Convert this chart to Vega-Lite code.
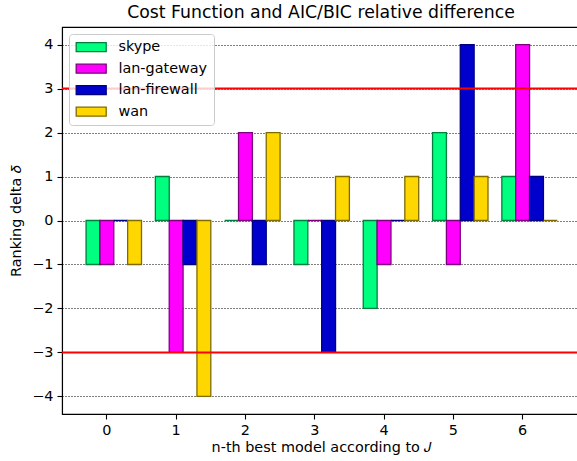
{
  "$schema": "https://vega.github.io/schema/vega-lite/v6.json",
  "width": 518,
  "height": 387,
  "autosize": {"type": "none"},
  "padding": {"left": 62, "top": 27, "right": -3, "bottom": 47},
  "background": "white",
  "title": {"text": "Cost Function and AIC/BIC relative difference", "font": "DejaVu Sans", "fontSize": 17.3, "fontWeight": "normal", "color": "black", "anchor": "middle", "offset": 6},
  "config": {
    "font": "DejaVu Sans",
    "view": {"stroke": "black", "strokeWidth": 1.1},
    "axis": {"domainColor": "black", "tickColor": "black", "labelColor": "black", "titleColor": "black", "labelFont": "DejaVu Sans", "titleFont": "DejaVu Sans", "labelFontSize": 14.4, "titleFontSize": 14.4, "titleFontWeight": "normal", "tickSize": 5, "tickWidth": 1.1, "domainWidth": 1.1, "labelPadding": 4}
  },
  "layer": [
    {
      "data": {"values": [
        {"n": 0, "series": "skype", "delta": -1},
        {"n": 0, "series": "lan-gateway", "delta": -1},
        {"n": 0, "series": "lan-firewall", "delta": 0},
        {"n": 0, "series": "wan", "delta": -1},
        {"n": 1, "series": "skype", "delta": 1},
        {"n": 1, "series": "lan-gateway", "delta": -3},
        {"n": 1, "series": "lan-firewall", "delta": -1},
        {"n": 1, "series": "wan", "delta": -4},
        {"n": 2, "series": "skype", "delta": 0},
        {"n": 2, "series": "lan-gateway", "delta": 2},
        {"n": 2, "series": "lan-firewall", "delta": -1},
        {"n": 2, "series": "wan", "delta": 2},
        {"n": 3, "series": "skype", "delta": -1},
        {"n": 3, "series": "lan-gateway", "delta": 0},
        {"n": 3, "series": "lan-firewall", "delta": -3},
        {"n": 3, "series": "wan", "delta": 1},
        {"n": 4, "series": "skype", "delta": -2},
        {"n": 4, "series": "lan-gateway", "delta": -1},
        {"n": 4, "series": "lan-firewall", "delta": 0},
        {"n": 4, "series": "wan", "delta": 1},
        {"n": 5, "series": "skype", "delta": 2},
        {"n": 5, "series": "lan-gateway", "delta": -1},
        {"n": 5, "series": "lan-firewall", "delta": 4},
        {"n": 5, "series": "wan", "delta": 1},
        {"n": 6, "series": "skype", "delta": 1},
        {"n": 6, "series": "lan-gateway", "delta": 4},
        {"n": 6, "series": "lan-firewall", "delta": 1},
        {"n": 6, "series": "wan", "delta": 0}
      ]},
      "mark": {"type": "bar", "strokeWidth": 1.3, "opacity": 1},
      "encoding": {
        "x": {"field": "n", "type": "ordinal", "scale": {"type": "band", "paddingInner": 0, "paddingOuter": 0.2375, "align": 0.31},
              "axis": {"labelAngle": 0, "title": "n-th best model according to 𝐽", "titlePadding": 4}},
        "xOffset": {"field": "series", "type": "nominal", "scale": {"domain": [" ", "skype", "lan-gateway", "lan-firewall", "wan"], "paddingInner": 0, "paddingOuter": 0}},
        "y": {"field": "delta", "type": "quantitative", "stack": null,
              "scale": {"domain": [-4.4, 4.4], "nice": false, "zero": false},
              "axis": {"values": [-4, -3, -2, -1, 0, 1, 2, 3, 4], "grid": true, "gridColor": "black", "gridDash": [1, 2], "gridWidth": 1, "gridOpacity": 1, "title": "Ranking delta 𝛿", "titlePadding": 8}},
        "y2": {"datum": 0},
        "fill": {"field": "series", "type": "nominal",
                 "scale": {"domain": ["skype", "lan-gateway", "lan-firewall", "wan"], "range": ["#00FF7F", "#FF00FF", "#0000CD", "#FFD700"]},
                 "legend": {"title": null, "orient": "none", "legendX": 7, "legendY": 7, "symbolType": "M-3,-0.9H3V0.9H-3Z", "symbolSize": 100, "symbolOffset": 9, "symbolStrokeWidth": 1.3, "labelFontSize": 14.4, "labelFont": "DejaVu Sans", "labelColor": "black", "labelOffset": 20, "rowPadding": 5.5, "padding": 6, "fillColor": "rgba(255,255,255,0.8)", "strokeColor": "#cccccc", "cornerRadius": 3}},
        "stroke": {"field": "series", "type": "nominal",
                 "scale": {"domain": ["skype", "lan-gateway", "lan-firewall", "wan"], "range": ["#007F3F", "#7F007F", "#00007F", "#7F6B00"]},
                 "legend": {"title": null, "orient": "none", "legendX": 7, "legendY": 7, "symbolType": "M-3,-0.9H3V0.9H-3Z", "symbolSize": 100, "symbolOffset": 9, "symbolStrokeWidth": 1.3, "labelFontSize": 14.4, "labelFont": "DejaVu Sans", "labelColor": "black", "labelOffset": 20, "rowPadding": 5.5, "padding": 6, "fillColor": "rgba(255,255,255,0.8)", "strokeColor": "#cccccc", "cornerRadius": 3}}
      }
    },
    {
      "data": {"values": [{"level": 3}, {"level": -3}]},
      "mark": {"type": "rule", "color": "#FF0000", "strokeWidth": 2.1},
      "encoding": {"y": {"field": "level", "type": "quantitative"}}
    }
  ]
}
